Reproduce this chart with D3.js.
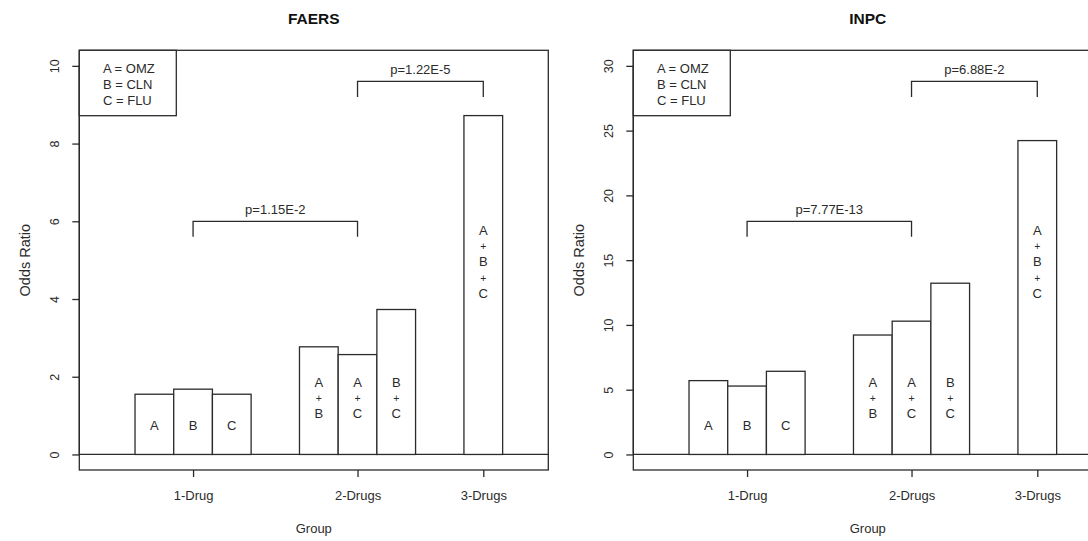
<!DOCTYPE html>
<html><head><meta charset="utf-8">
<script src="https://cdn.jsdelivr.net/npm/d3@7"></script>
<style>
body{margin:0;background:#fff;}
svg{display:block;font-family:"Liberation Sans",Arial,sans-serif;}
</style></head>
<body><svg id="chart" width="1088" height="541"></svg>
<script>
// ---- data ----
const panelTitles = ["FAERS", "INPC"];
const groupNames = ["1-Drug", "2-Drugs", "3-Drugs"];
const barLabels = [["A", "B", "C"], ["A+B", "A+C", "B+C"], ["A+B+C"]];
const faersValues = [[1.55, 1.68, 1.55], [2.77, 2.57, 3.73], [8.72]];
const inpcValues = [[5.70, 5.28, 6.42], [9.22, 10.29, 13.22], [24.23]];
const faersTicks = [0, 2, 4, 6, 8, 10];
const inpcTicks = [0, 5, 10, 15, 20, 25, 30];
const legendLines = ["A = OMZ", "B = CLN", "C = FLU"];
const faersPValues = ["p=1.15E-2", "p=1.22E-5"];
const inpcPValues = ["p=7.77E-13", "p=6.88E-2"];
const xLabel = "Group";
const yLabel = "Odds Ratio";

// ---- layout ----
const svg = d3.select("#chart");
const ink = "#2b2b2b";
const panelW = 469, plotTop = 50.3, plotBottom = 470;
const panelLefts = [79.3, 633.3];
const units = 12.12;          // x domain in bar widths
const groupStarts = [1.44, 5.69, 9.94];
const labelFrac = [0.0755, 0.145, 0.496];

const panels = [
  {title: panelTitles[0], values: faersValues, ticks: faersTicks, p: faersPValues},
  {title: panelTitles[1], values: inpcValues, ticks: inpcTicks, p: inpcPValues}
];

panels.forEach((pd, pi) => {
  const L = panelLefts[pi], R = L + panelW;
  const ymax = d3.max(pd.ticks);
  const pad = ymax * 0.04;
  const y = d3.scaleLinear().domain([-pad, ymax + pad]).range([plotBottom, plotTop]);
  const x = d3.scaleLinear().domain([0, units]).range([L, R]);
  const g = svg.append("g");

  // title
  g.append("text").attr("x", (L + R) / 2).attr("y", 23.5)
    .attr("text-anchor", "middle").attr("font-weight", "bold")
    .attr("font-size", 15.5).attr("fill", "#111").text(pd.title);

  // zero line
  g.append("line").attr("x1", L).attr("x2", R).attr("y1", y(0)).attr("y2", y(0))
    .attr("stroke", ink).attr("stroke-width", 1.3);

  // bars
  pd.values.forEach((vals, gi) => {
    vals.forEach((v, bi) => {
      const x0 = x(groupStarts[gi] + bi), x1 = x(groupStarts[gi] + bi + 1);
      g.append("rect").attr("x", x0).attr("y", y(v))
        .attr("width", x1 - x0).attr("height", y(0) - y(v))
        .attr("fill", "#fff").attr("stroke", ink).attr("stroke-width", 1.3);
      const parts = barLabels[gi][bi].split("+");
      const lines = [];
      parts.forEach((p, k) => { if (k > 0) lines.push("+"); lines.push(p); });
      const cy = y(ymax * labelFrac[gi]);
      const sp = 15.8;
      lines.forEach((t, k) => {
        g.append("text").attr("x", (x0 + x1) / 2)
          .attr("y", cy + (k - (lines.length - 1) / 2) * sp)
          .attr("text-anchor", "middle").attr("dominant-baseline", "central")
          .attr("font-size", t === "+" ? 10.5 : 13).attr("fill", ink).text(t);
      });
    });
  });

  const centers = groupStarts.map((s, i) => s + pd.values[i].length / 2);

  // brackets
  const brackets = [[0, 1, 0.6], [1, 2, 0.96]];
  brackets.forEach(([a, b, f], k) => {
    const xa = x(centers[a]), xb = x(centers[b]);
    const yt = y(ymax * f), yl = y(ymax * (f - 0.04));
    g.append("path").attr("d", `M${xa},${yl}V${yt}H${xb}V${yl}`)
      .attr("fill", "none").attr("stroke", ink).attr("stroke-width", 1.3);
    g.append("text").attr("x", (xa + xb) / 2).attr("y", yt - 12)
      .attr("text-anchor", "middle").attr("dominant-baseline", "central")
      .attr("font-size", 13).attr("fill", ink).text(pd.p[k]);
  });

  // plot box
  g.append("rect").attr("x", L).attr("y", plotTop).attr("width", R - L).attr("height", plotBottom - plotTop)
    .attr("fill", "none").attr("stroke", ink).attr("stroke-width", 1.3);

  // y axis
  const ya = g.append("g").attr("transform", `translate(${L},0)`)
    .call(d3.axisLeft(y).tickValues(pd.ticks).tickSize(7).tickSizeOuter(0).tickPadding(0));
  ya.select(".domain").attr("stroke", ink).attr("stroke-width", 1.3)
    .attr("d", `M0,${y(pd.ticks[0])}V${y(ymax)}`);
  ya.selectAll(".tick line").attr("stroke", ink).attr("stroke-width", 1.3);
  ya.selectAll(".tick text").attr("x", null).attr("dy", null)
    .attr("transform", "translate(-24.5,0) rotate(-90)")
    .attr("text-anchor", "middle").attr("dominant-baseline", "central")
    .attr("font-size", 12.5).attr("font-family", "Liberation Sans, Arial, sans-serif").attr("fill", ink);

  // x axis
  const xa = g.append("g").attr("transform", `translate(0,${plotBottom})`)
    .call(d3.axisBottom(x).tickValues(centers).tickSize(7).tickPadding(0)
      .tickFormat((d, i) => groupNames[i]));
  xa.select(".domain").remove();
  xa.selectAll(".tick line").attr("stroke", ink).attr("stroke-width", 1.3);
  xa.selectAll(".tick text").attr("y", 25).attr("dy", null)
    .attr("dominant-baseline", "central")
    .attr("font-size", 13).attr("font-family", "Liberation Sans, Arial, sans-serif").attr("fill", ink);

  // axis titles
  g.append("text").attr("x", (L + R) / 2).attr("y", 528)
    .attr("text-anchor", "middle").attr("dominant-baseline", "central")
    .attr("font-size", 13).attr("fill", ink).text(xLabel);
  g.append("text").attr("transform", `translate(${L - 54},${(plotTop + plotBottom) / 2}) rotate(-90)`)
    .attr("text-anchor", "middle").attr("dominant-baseline", "central")
    .attr("font-size", 14.5).attr("fill", ink).text(yLabel);

  // legend
  g.append("rect").attr("x", L).attr("y", plotTop).attr("width", 97).attr("height", 65.4)
    .attr("fill", "#fff").attr("stroke", ink).attr("stroke-width", 1.3);
  legendLines.forEach((t, k) => {
    g.append("text").attr("x", L + 23.7).attr("y", 68.3 + k * 16)
      .attr("dominant-baseline", "central").attr("font-size", 13).attr("fill", ink).text(t);
  });
});
</script></body></html>
